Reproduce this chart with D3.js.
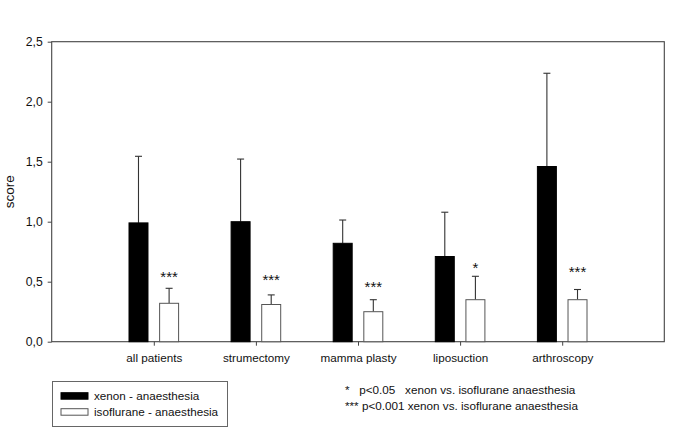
<!DOCTYPE html>
<html>
<head>
<meta charset="utf-8">
<script src="https://cdn.jsdelivr.net/npm/d3@7"></script>
<style>
  html, body { margin: 0; padding: 0; background: #fff; }
  svg { display: block; }
  text { font-family: "Liberation Sans", Arial, sans-serif; fill: #111; }
</style>
</head>
<body>
<svg id="chart" width="685" height="434"></svg>
<script>
// ---- data ----
const categories = ["all patients", "strumectomy", "mamma plasty", "liposuction", "arthroscopy"];
const series = ["xenon - anaesthesia", "isoflurane - anaesthesia"];
const xenonMean = [0.99, 1.00, 0.82, 0.71, 1.46];
const xenonSD   = [0.555, 0.522, 0.194, 0.369, 0.777];
const isoMean   = [0.32, 0.31, 0.25, 0.35, 0.35];
const isoSD     = [0.125, 0.08, 0.10, 0.195, 0.085];
const significance = ["***", "***", "***", "*", "***"];
const starLevel = [0.57, 0.545, 0.49, 0.645, 0.61];
const yTicks = [0, 0.5, 1.0, 1.5, 2.0, 2.5];
const footnotes = ["*   p<0.05   xenon vs. isoflurane anaesthesia", "*** p<0.001 xenon vs. isoflurane anaesthesia"];

// ---- layout ----
const svg = d3.select("#chart");
const L = 51.7, R = 664.3, T = 41.7, B = 341.7;
const fmt = d => d3.format(".1f")(d).replace(".", ",");

const x = d3.scaleLinear().domain([0, categories.length + 1]).range([L, R]);
const y = d3.scaleLinear().domain([0, 2.5]).range([B, T]);
const inner = d3.scaleBand().domain(series).range([-24.8, 24.8]).paddingInner(0.38);
const bw = inner.bandwidth();

const rows = [];
categories.forEach((c, i) => {
  rows.push({ cat: i, s: series[0], mean: xenonMean[i], sd: xenonSD[i] });
  rows.push({ cat: i, s: series[1], mean: isoMean[i], sd: isoSD[i] });
});

const axisColor = "#444";

// y axis
const yAxis = svg.append("g").attr("transform", `translate(${L},0)`)
  .call(d3.axisLeft(y).tickValues(yTicks).tickFormat(fmt).tickSize(4).tickPadding(5));
yAxis.select(".domain").remove();
yAxis.selectAll("line").attr("stroke", axisColor);
yAxis.selectAll("text").attr("font-size", "12.2px").attr("fill", "#111")
  .style("font-family", '"Liberation Sans", Arial, sans-serif');

// x axis ticks
const xAxis = svg.append("g").attr("transform", `translate(0,${B})`)
  .call(d3.axisBottom(x).tickValues(categories.map((c, i) => i + 1))
    .tickFormat((d) => categories[d - 1]).tickSize(4).tickPadding(8));
xAxis.select(".domain").remove();
xAxis.selectAll("line").attr("stroke", axisColor);
xAxis.selectAll("text").attr("font-size", "11.7px").attr("fill", "#111")
  .style("font-family", '"Liberation Sans", Arial, sans-serif');

// frame
svg.append("rect").attr("x", L).attr("y", T).attr("width", R - L).attr("height", B - T)
  .attr("fill", "none").attr("stroke", axisColor).attr("stroke-width", 1.1);

// error bars
const eb = svg.append("g").attr("stroke", "#333").attr("stroke-width", 1.1);
rows.forEach(d => {
  const cx = x(d.cat + 1) + inner(d.s) + bw / 2;
  eb.append("line").attr("x1", cx).attr("x2", cx).attr("y1", y(d.mean)).attr("y2", y(d.mean + d.sd));
  eb.append("line").attr("x1", cx - 3.5).attr("x2", cx + 3.5).attr("y1", y(d.mean + d.sd)).attr("y2", y(d.mean + d.sd));
});

// bars
svg.append("g").selectAll("rect").data(rows).join("rect")
  .attr("x", d => x(d.cat + 1) + inner(d.s))
  .attr("y", d => y(d.mean))
  .attr("width", bw)
  .attr("height", d => y(0) - y(d.mean))
  .attr("fill", d => d.s === series[0] ? "#000" : "#fff")
  .attr("stroke", d => d.s === series[0] ? "#000" : "#555")
  .attr("stroke-width", 1);

// significance stars
svg.append("g").selectAll("text").data(significance).join("text")
  .attr("x", (d, i) => x(i + 1) + inner(series[1]) + bw / 2)
  .attr("y", (d, i) => y(starLevel[i]) + 8.6)
  .attr("text-anchor", "middle")
  .attr("font-size", "15px")
  .text(d => d);

// y label
svg.append("text")
  .attr("transform", `translate(13.5,${(T + B) / 2 + 0}) rotate(-90)`)
  .attr("text-anchor", "middle")
  .attr("font-size", "13.5px")
  .text("score");

// legend
const lg = svg.append("g");
lg.append("rect").attr("x", 52.5).attr("y", 381.5).attr("width", 175).attr("height", 45)
  .attr("fill", "#fff").attr("stroke", "#666").attr("stroke-width", 1);
series.forEach((s, i) => {
  const yy = 392.7 + i * 16;
  lg.append("rect").attr("x", 61).attr("y", yy).attr("width", 27).attr("height", 6.5)
    .attr("fill", i === 0 ? "#000" : "#fff").attr("stroke", i === 0 ? "#000" : "#555");
  lg.append("text").attr("x", 94).attr("y", yy + 7.5).attr("font-size", "11.7px").text(s);
});

// footnotes
svg.append("g").selectAll("text").data(footnotes).join("text")
  .attr("x", 345).attr("y", (d, i) => 394 + i * 15.5)
  .attr("font-size", "11.7px")
  .attr("xml:space", "preserve")
  .style("white-space", "pre")
  .text(d => d);
</script>
</body>
</html>
